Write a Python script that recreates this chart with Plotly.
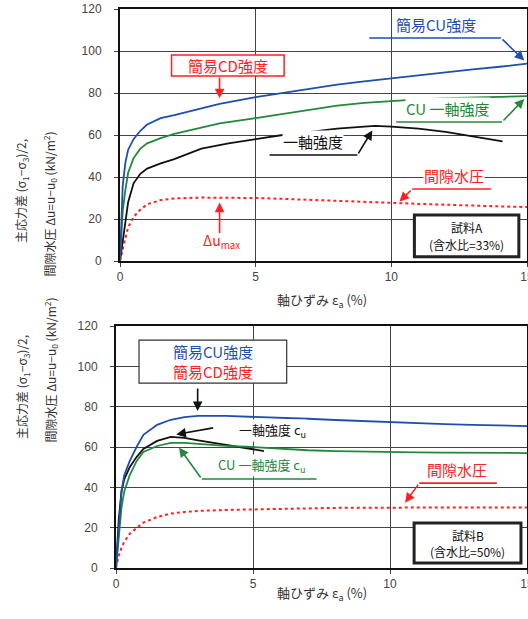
import plotly.graph_objects as go

# ---------------- data: upper panel ----------------
ea_top = [0, 0.05, 0.1, 0.2, 0.3, 0.5, 0.75, 1, 1.5, 2, 3, 3.67, 5, 6, 7, 8, 9, 10, 11, 12, 13, 14, 15]
cu_simple_top = [0, 24, 36, 47, 53, 58, 62, 65, 68, 69.5, 72.5, 74.8, 78, 80, 82, 84, 85.5, 87, 88.5, 90, 91.2, 92.5, 94]
cu_uc_top = [0, 14, 24, 34, 42, 49, 53.5, 56, 58.5, 60.5, 63.5, 65.5, 68, 70, 72, 74, 75.3, 76.2, 77, 77.5, 77.8, 78, 78.5]
pore_top = [0, 3, 6, 11, 16, 21, 24.5, 27, 29, 29.8, 30.2, 30.2, 30, 29.6, 29.2, 28.7, 28.2, 27.7, 27.2, 26.7, 26.3, 26, 25.7]
ea_uc_top = [0, 0.1, 0.2, 0.3, 0.5, 0.75, 1, 1.5, 2, 3, 4, 5, 6, 7, 8, 9, 9.4, 10, 11, 12, 13, 14.1]
uc_top = [0, 9, 20, 28, 37, 41.5, 44, 46.5, 48.5, 53.5, 56, 58, 60, 61.5, 63, 64, 64.3, 64, 63, 61.5, 59.5, 57]

# marked points (upper)
cd_pt_top = (3.67, 74.8)
dumax_pt_top = (3.67, 30.2)
uc_pt_top = (9.4, 64.3)
cuuc_pt_top = (15, 78.5)
cu_pt_top = (15, 94)

# ---------------- data: lower panel ----------------
ea_bot = [0, 0.1, 0.2, 0.3, 0.5, 0.75, 1, 1.5, 2, 2.5, 3, 4, 5, 6, 7, 8, 9, 10, 11, 12, 13, 14, 15]
cu_simple_bot = [0, 22, 38, 46, 53, 60, 66, 71, 73.5, 74.8, 75.4, 75.4, 75, 74.5, 74, 73.4, 72.8, 72.2, 71.7, 71.3, 71, 70.7, 70.4]
cu_uc_bot = [0, 16, 30, 38, 46, 53, 57.5, 60.5, 62, 62, 61.5, 60.6, 60, 59.2, 58.4, 58, 57.7, 57.5, 57.3, 57.2, 57.1, 57, 57]
pore_bot = [0, 6, 10, 13, 17, 20, 22.5, 25.3, 27, 27.8, 28.3, 28.8, 29.1, 29.4, 29.6, 29.8, 29.9, 30, 30, 30, 30, 30, 30]
ea_uc_bot = [0, 0.1, 0.2, 0.3, 0.5, 0.75, 1, 1.5, 2, 2.5, 3, 4, 5, 5.4]
uc_bot = [0, 24, 38, 44, 50, 55, 59, 63, 65, 64.5, 63.3, 61, 58.8, 58]

cd_pt_bot = (2.98, 75.4)
uc_pt_bot = (1.96, 65)
cuuc_pt_bot = (2.2, 62)

x_ticks = [0, 5, 10, 15]
y_ticks = [0, 20, 40, 60, 80, 100, 120]

BLUE = "#1f4fae"
GREEN = "#23883a"
BLACK = "#111111"
RED = "#ff2020"
JP = "Noto Sans CJK JP"

fig = go.Figure()

def add_curves(xa, ya, ea, cu, cuuc, pore, eauc, uc):
    fig.add_trace(go.Scatter(x=ea, y=pore, mode="lines", line=dict(color=RED, width=2, dash="dot"), xaxis=xa, yaxis=ya))
    fig.add_trace(go.Scatter(x=eauc, y=uc, mode="lines", line=dict(color=BLACK, width=1.8), xaxis=xa, yaxis=ya))
    fig.add_trace(go.Scatter(x=ea, y=cuuc, mode="lines", line=dict(color=GREEN, width=1.8), xaxis=xa, yaxis=ya))
    fig.add_trace(go.Scatter(x=ea, y=cu, mode="lines", line=dict(color=BLUE, width=1.8), xaxis=xa, yaxis=ya))

def add_marker(xa, ya, pt, symbol, color):
    fig.add_trace(go.Scatter(x=[pt[0]], y=[pt[1]], mode="markers",
                             marker=dict(symbol=symbol, size=9, color="rgba(0,0,0,0)",
                                         line=dict(color=color, width=1.8)),
                             xaxis=xa, yaxis=ya))

add_curves("x", "y", ea_top, cu_simple_top, cu_uc_top, pore_top, ea_uc_top, uc_top)
add_marker("x", "y", cd_pt_top, "square-open", RED)
add_marker("x", "y", dumax_pt_top, "square-open", RED)
add_marker("x", "y", uc_pt_top, "circle-open", BLACK)
add_marker("x", "y", cuuc_pt_top, "circle-open", GREEN)
add_marker("x", "y", cu_pt_top, "triangle-left-open", BLUE)

add_curves("x2", "y2", ea_bot, cu_simple_bot, cu_uc_bot, pore_bot, ea_uc_bot, uc_bot)
add_marker("x2", "y2", cd_pt_bot, "square-open", RED)
add_marker("x2", "y2", uc_pt_bot, "circle-open", BLACK)
add_marker("x2", "y2", cuuc_pt_bot, "circle-open", GREEN)

W, H = 528, 619
def px(v): return v / W
def py(v): return 1 - v / H

axis_common = dict(showline=True, mirror=True, linecolor="#111", linewidth=2,
                   showgrid=True, gridcolor="#444", gridwidth=1, zeroline=False,
                   ticks="outside", ticklen=4, tickcolor="#444", automargin=False,
                   ticklabeloverflow="allow",
                   tickfont=dict(family="Liberation Sans", size=12, color="#444"))

fig.update_layout(
    width=W, height=H, margin=dict(l=0, r=0, t=0, b=0, autoexpand=False),
    paper_bgcolor="white", plot_bgcolor="white", showlegend=False,
    xaxis=dict(domain=[px(120), px(527)], range=[0, 15], tickvals=x_ticks, anchor="y", **axis_common),
    yaxis=dict(domain=[py(261), py(9)], range=[0, 120], tickvals=y_ticks, anchor="x",
               ticklabelstandoff=10, **axis_common),
    xaxis2=dict(domain=[px(116), px(527)], range=[0, 15], tickvals=x_ticks, anchor="y2", **axis_common),
    yaxis2=dict(domain=[py(568), py(326)], range=[0, 120], tickvals=y_ticks, anchor="x2",
                ticklabelstandoff=10, **axis_common),
)

ann = []
shapes = []

def label(xr, yr, x, y, text, color, size=15, bg="white", yanchor="middle"):
    ann.append(dict(xref=xr, yref=yr, x=x, y=y, text=text, showarrow=False, yanchor=yanchor,
                    font=dict(family=JP, size=size, color=color), bgcolor=bg, borderpad=0))

def arrow(xr, yr, x0, y0, x1, y1, color):
    ann.append(dict(xref=xr, yref=yr, axref=xr, ayref=yr, x=x1, y=y1, ax=x0, ay=y0, text="",
                    showarrow=True, arrowhead=2, arrowsize=1.2, arrowwidth=1.6, arrowcolor=color))

def seg(xr, yr, x0, y0, x1, y1, color):
    shapes.append(dict(type="line", xref=xr, yref=yr, x0=x0, y0=y0, x1=x1, y1=y1,
                       line=dict(color=color, width=1.6)))

def box(xr, yr, x0, y0, x1, y1, color, width=1.5):
    shapes.append(dict(type="rect", xref=xr, yref=yr, x0=x0, y0=y0, x1=x1, y1=y1,
                       line=dict(color=color, width=width), fillcolor="white", layer="above"))

# ---- upper panel annotations ----
label("x", "y", 11.65, 107.2, "簡易CU強度", BLUE, yanchor="bottom")
seg("x", "y", 9.19, 106.2, 14.04, 106.2, BLUE)
arrow("x", "y", 14.04, 106.2, 14.9, 95.5, BLUE)

box("x", "y", 1.9, 88.1, 6.05, 98.1, RED)
label("x", "y", 3.97, 93.1, "簡易CD強度", RED, bg=None)
arrow("x", "y", 3.67, 88.1, 3.67, 77.5, RED)

label("x", "y", 12.1, 67.2, "CU 一軸強度", GREEN, yanchor="bottom")
seg("x", "y", 10.18, 66.2, 14.08, 66.2, GREEN)
arrow("x", "y", 14.08, 66.2, 14.9, 77.2, GREEN)

label("x", "y", 7.1, 51.5, "一軸強度", BLACK, yanchor="bottom")
seg("x", "y", 5.51, 50.5, 8.75, 50.5, BLACK)
arrow("x", "y", 8.75, 50.5, 9.3, 62.2, BLACK)

label("x", "y", 12.3, 35.3, "間隙水圧", RED, yanchor="bottom")
seg("x", "y", 10.77, 34.3, 13.68, 34.3, RED)
arrow("x", "y", 10.77, 34.3, 10.3, 28.3, RED)

label("x", "y", 3.75, 9.5, "Δu<sub>max</sub>", RED, size=14)
arrow("x", "y", 3.67, 12.6, 3.67, 27.8, RED)

box("x", "y", 10.85, 2.0, 14.7, 21.9, "#222", width=3)
label("x", "y", 12.78, 15.8, "試料A", BLACK, size=12, bg=None)
label("x", "y", 12.78, 7.8, "(含水比=33%)", BLACK, size=12, bg=None)

# ---- lower panel annotations ----
box("x2", "y2", 0.84, 91.7, 6.23, 113.0, "#333", width=1.2)
label("x2", "y2", 3.53, 107.3, "簡易CU強度", BLUE, bg=None)
label("x2", "y2", 3.53, 97.6, "簡易CD強度", RED, bg=None)
arrow("x2", "y2", 2.98, 89.7, 2.98, 77.8, BLACK)

label("x2", "y2", 5.7, 68.4, "一軸強度 c<sub>u</sub>", BLACK, size=13)
arrow("x2", "y2", 3.6, 69.6, 2.2, 66.2, BLACK)

label("x2", "y2", 5.3, 45.1, "CU 一軸強度 c<sub>u</sub>", GREEN, size=13, yanchor="bottom")
seg("x2", "y2", 3.13, 44.1, 7.32, 44.1, GREEN)
arrow("x2", "y2", 3.13, 44.1, 2.3, 59.8, GREEN)

label("x2", "y2", 12.45, 43.1, "間隙水圧", RED, yanchor="bottom")
seg("x2", "y2", 11.07, 42.1, 13.9, 42.1, RED)
arrow("x2", "y2", 11.07, 42.1, 10.55, 32.4, RED)

box("x2", "y2", 10.88, 2.5, 14.78, 22.3, "#222", width=3)
label("x2", "y2", 12.83, 16.3, "試料B", BLACK, size=12, bg=None)
label("x2", "y2", 12.83, 8.3, "(含水比=50%)", BLACK, size=12, bg=None)

# ---- axis titles ----
for yc1, yc2 in [(137, 130), (441, 445)]:
    ann.append(dict(xref="paper", yref="paper", x=px(22), y=py(yc1), xanchor="center",
                    text="主応力差 (σ<sub>1</sub>−σ<sub>3</sub>)/2,",
                    textangle=-90, showarrow=False, font=dict(family=JP, size=12, color="#333")))
    ann.append(dict(xref="paper", yref="paper", x=px(50), y=py(yc2), xanchor="center",
                    text="間隙水圧 Δu=u−u<sub>0</sub> (kN/m<sup>2</sup>)",
                    textangle=-90, showarrow=False, font=dict(family=JP, size=12, color="#333")))
for yc in [300, 606]:
    ann.append(dict(xref="paper", yref="paper", x=px(322), y=py(yc), xanchor="center",
                    text="軸ひずみ ε<sub>a</sub> (%)",
                    showarrow=False, font=dict(family=JP, size=13, color="#333")))

fig.update_layout(annotations=ann, shapes=shapes)
fig.write_html("out.html", config={"displayModeBar": False},
               post_script="document.body.style.margin='0px';document.body.style.overflow='hidden';")
